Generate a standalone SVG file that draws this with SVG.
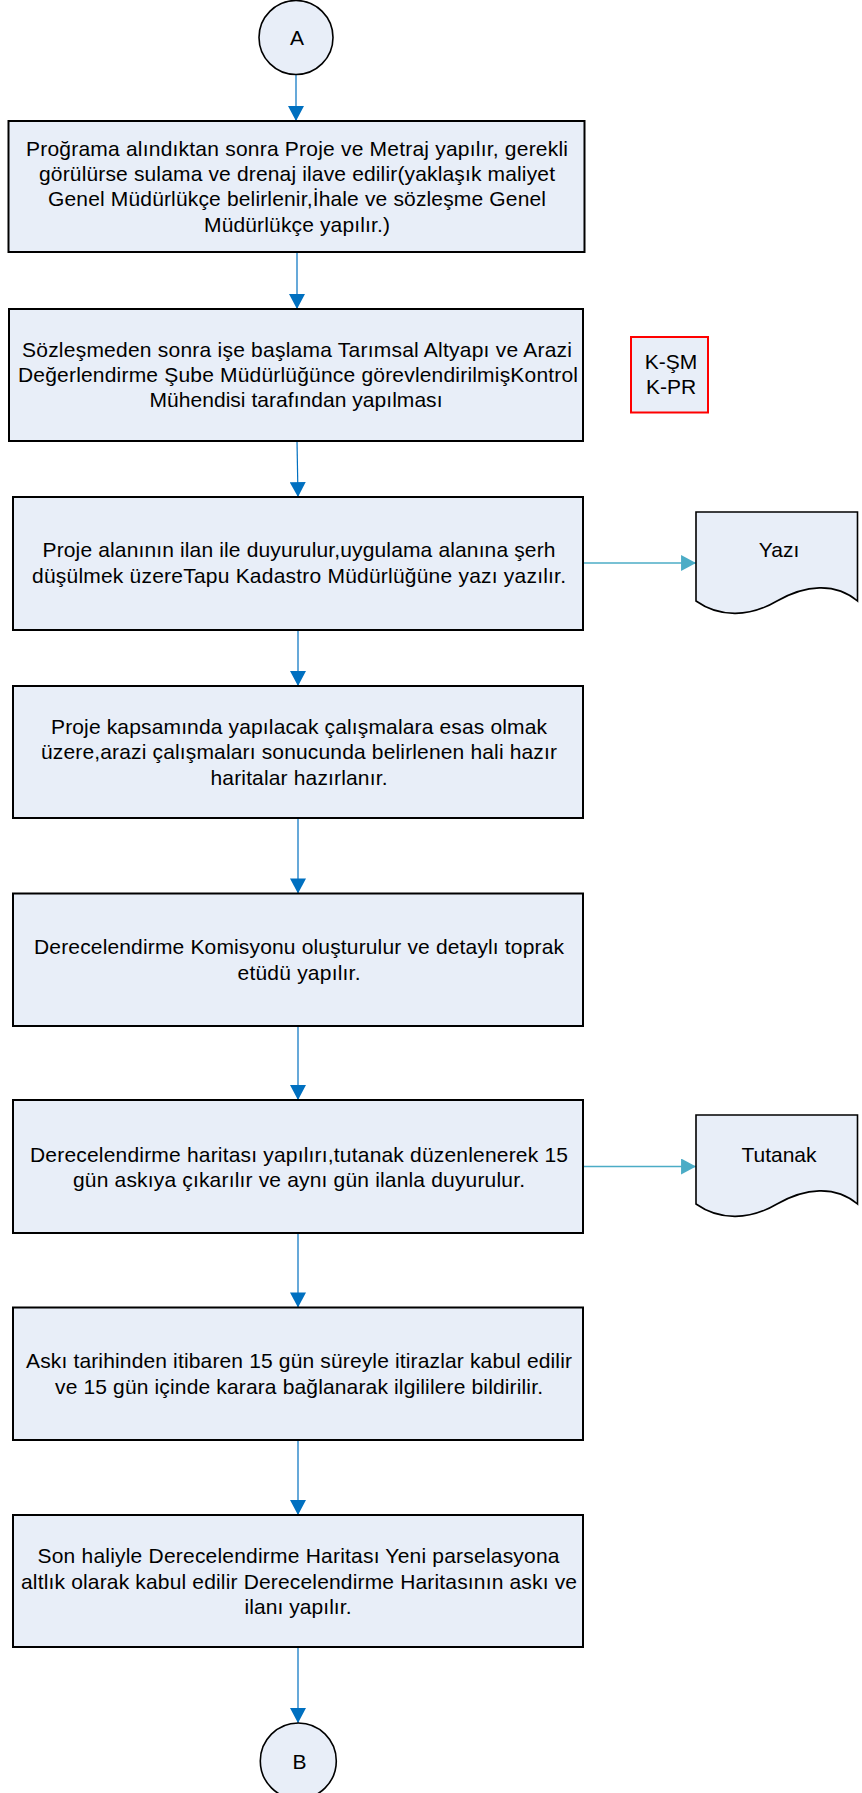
<svg xmlns="http://www.w3.org/2000/svg" width="862" height="1793" viewBox="0 0 862 1793">
<style>
.box{fill:#e8eef8;stroke:#000;stroke-width:2}
.term{fill:#e8eef8;stroke:#000;stroke-width:1.6}
.note{fill:#e8eef8;stroke:#ff0000;stroke-width:2}
.t{font-family:"Liberation Sans",Arial,sans-serif;font-size:21px;fill:#000;text-anchor:middle}
.main{stroke:#0070c0;stroke-width:1.2;fill:none}
.side{stroke:#4bacc6;stroke-width:1.5;fill:none}
</style>
<defs>
<marker id="ah" markerUnits="userSpaceOnUse" markerWidth="16" markerHeight="16" viewBox="0 0 14 15" refX="14" refY="7.5" orient="auto"><path d="M0,0 L14,7.5 L0,15 Z" fill="#0070c0"/></marker>
<marker id="ah2" markerUnits="userSpaceOnUse" markerWidth="16" markerHeight="16" viewBox="0 0 14 15" refX="14" refY="7.5" orient="auto"><path d="M0,0 L14,7.5 L0,15 Z" fill="#4bacc6"/></marker>
</defs>
<g id="connectors">
<line class="main" x1="296" y1="74.5" x2="296" y2="121" marker-end="url(#ah)"/>
<line class="main" x1="297" y1="252" x2="297" y2="309" marker-end="url(#ah)"/>
<line class="main" x1="297" y1="441" x2="298" y2="497" marker-end="url(#ah)"/>
<line class="main" x1="298" y1="630" x2="298" y2="686" marker-end="url(#ah)"/>
<line class="main" x1="298" y1="818" x2="298" y2="893.5" marker-end="url(#ah)"/>
<line class="main" x1="298" y1="1026" x2="298" y2="1100" marker-end="url(#ah)"/>
<line class="main" x1="298" y1="1233" x2="298" y2="1307.5" marker-end="url(#ah)"/>
<line class="main" x1="298" y1="1440" x2="298" y2="1515" marker-end="url(#ah)"/>
<line class="main" x1="298" y1="1647" x2="298" y2="1723" marker-end="url(#ah)"/>
<line class="side" x1="583" y1="563" x2="696" y2="563" marker-end="url(#ah2)"/>
<line class="side" x1="583" y1="1166.5" x2="696" y2="1166.5" marker-end="url(#ah2)"/>
</g>
<g id="startA">
<circle class="term" cx="296" cy="37.5" r="37"/>
<text class="t" x="297" y="45">A</text>
</g>
<g id="step1">
<rect class="box" x="8.5" y="121" width="576" height="131"/>
<text class="t" x="297" y="155.5" textLength="542">Proğrama alındıktan sonra Proje ve Metraj yapılır, gerekli</text>
<text class="t" x="297" y="181" textLength="516">görülürse sulama ve drenaj ilave edilir(yaklaşık maliyet</text>
<text class="t" x="297" y="206" textLength="498">Genel Müdürlükçe belirlenir,İhale ve sözleşme Genel</text>
<text class="t" x="297" y="231.5" textLength="186">Müdürlükçe yapılır.)</text>
</g>
<g id="step2">
<rect class="box" x="9" y="309" width="574" height="132"/>
<text class="t" x="297" y="356.5" textLength="550">Sözleşmeden sonra işe başlama Tarımsal Altyapı ve Arazi</text>
<text class="t" x="298" y="382" textLength="560">Değerlendirme Şube Müdürlüğünce görevlendirilmişKontrol</text>
<text class="t" x="296" y="407" textLength="293">Mühendisi tarafından yapılması</text>
</g>
<g id="noteKSM">
<rect class="note" x="631" y="337" width="77" height="75.5"/>
<text class="t" x="671" y="368.5">K-ŞM</text>
<text class="t" x="671" y="393.5">K-PR</text>
</g>
<g id="step3">
<rect class="box" x="13" y="497" width="570" height="133"/>
<text class="t" x="299" y="557" textLength="513">Proje alanının ilan ile duyurulur,uygulama alanına şerh</text>
<text class="t" x="299" y="583" textLength="534">düşülmek üzereTapu Kadastro Müdürlüğüne yazı yazılır.</text>
</g>
<g id="docYazi">
<path class="term" d="M696,512 H857.5 V601 C835,582 805,585 777,601 C750,617 720,618 696,601 Z"/>
<text class="t" x="779" y="557">Yazı</text>
</g>
<g id="step4">
<rect class="box" x="13" y="686" width="570" height="132"/>
<text class="t" x="299" y="733.5" textLength="496">Proje kapsamında yapılacak çalışmalara esas olmak</text>
<text class="t" x="299" y="759" textLength="516">üzere,arazi çalışmaları sonucunda belirlenen hali hazır</text>
<text class="t" x="299" y="784.5" textLength="177">haritalar hazırlanır.</text>
</g>
<g id="step5">
<rect class="box" x="13" y="893.5" width="570" height="132.5"/>
<text class="t" x="299" y="953.5" textLength="530">Derecelendirme Komisyonu oluşturulur ve detaylı toprak</text>
<text class="t" x="299" y="979.5" textLength="123">etüdü yapılır.</text>
</g>
<g id="step6">
<rect class="box" x="13" y="1100" width="570" height="133"/>
<text class="t" x="299" y="1161.7" textLength="538">Derecelendirme haritası yapılırı,tutanak düzenlenerek 15</text>
<text class="t" x="299" y="1186.7" textLength="452">gün askıya çıkarılır ve aynı gün ilanla duyurulur.</text>
</g>
<g id="docTutanak">
<path class="term" d="M696,1115 H857.5 V1204 C835,1185 805,1188 777,1204 C750,1220 720,1221 696,1204 Z"/>
<text class="t" x="779" y="1161.7">Tutanak</text>
</g>
<g id="step7">
<rect class="box" x="13" y="1307.5" width="570" height="132.5"/>
<text class="t" x="299" y="1368.3" textLength="546">Askı tarihinden itibaren 15 gün süreyle itirazlar kabul edilir</text>
<text class="t" x="299" y="1394" textLength="488">ve 15 gün içinde karara bağlanarak ilgililere bildirilir.</text>
</g>
<g id="step8">
<rect class="box" x="13" y="1515" width="570" height="132"/>
<text class="t" x="298.5" y="1563.3" textLength="522">Son haliyle Derecelendirme Haritası Yeni parselasyona</text>
<text class="t" x="299" y="1589.3" textLength="556">altlık olarak kabul edilir Derecelendirme Haritasının askı ve</text>
<text class="t" x="298" y="1614.3" textLength="107">ilanı yapılır.</text>
</g>
<g id="endB">
<circle class="term" cx="298.3" cy="1761" r="38"/>
<text class="t" x="299.5" y="1768.5">B</text>
</g>
</svg>
